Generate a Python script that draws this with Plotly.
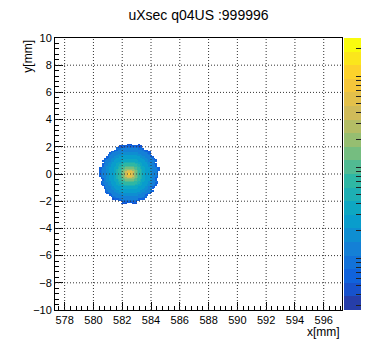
import numpy as np
import plotly.graph_objects as go

# ---------------- data ----------------
title_text = "uXsec q04US :999996"
x_title = "x[mm]"
y_title = "y[mm]"

x_range = [577.33, 597.27]
y_range = [-10, 10]
x_ticks = [578, 580, 582, 584, 586, 588, 590, 592, 594, 596]
y_ticks = [-10, -8, -6, -4, -2, 0, 2, 4, 6, 8, 10]
grid_x = [578, 580, 582, 584, 586, 588, 590, 592, 594, 596]
grid_y = [-8, -6, -4, -2, 0, 2, 4, 6, 8]

beam_center = [582.5, 0.0]
bin_width = 0.1
hist_x_lim = [580.0, 585.0]
hist_y_lim = [-2.5, 2.5]

profile_radius_mm = [0.0, 0.1, 0.2, 0.3, 0.4, 0.5, 0.6, 0.7, 0.8, 0.9, 1.0, 1.1,
                     1.2, 1.3, 1.4, 1.5, 1.6, 1.7, 1.8, 1.9, 2.0, 2.1, 2.2, 2.3]
profile_counts = [1150, 1000, 660, 380, 235, 155, 110, 84, 64, 52, 42, 36,
                  30, 26, 23, 20, 17, 15, 13, 11, 8, 6, 4, 3]

# outer (ragged) edge of the spot vs. angle, every 10 degrees
edge_angle_deg = [0, 10, 20, 30, 40, 50, 60, 70, 80, 90, 100, 110,
                  120, 130, 140, 150, 160, 170, 180, 190, 200, 210, 220, 230,
                  240, 250, 260, 270, 280, 290, 300, 310, 320, 330, 340, 350]
edge_radius_mm = [2.05, 2.12, 2.0, 2.15, 2.08, 2.2, 2.12, 2.25, 2.15, 2.22, 2.1, 2.18,
                  2.05, 2.12, 2.0, 2.1, 2.02, 2.12, 2.08, 2.0, 2.12, 2.05, 2.15, 2.08,
                  2.2, 2.1, 2.22, 2.15, 2.2, 2.08, 2.15, 2.02, 2.1, 2.0, 2.08, 1.98]

z_count_range = [2.7, 2630]
n_contours = 20

# ROOT kBird palette
bird_stops = [0.0, 0.125, 0.25, 0.375, 0.5, 0.625, 0.75, 0.875, 1.0]
bird_r = [0.2082, 0.0592, 0.0780, 0.0232, 0.1802, 0.5301, 0.8186, 0.9956, 0.9764]
bird_g = [0.1664, 0.3599, 0.5041, 0.6419, 0.7178, 0.7492, 0.7328, 0.7862, 0.9832]
bird_b = [0.5293, 0.8684, 0.8385, 0.7914, 0.6425, 0.4662, 0.3499, 0.1968, 0.0539]

# ---------------- build histogram ----------------
xc = np.arange(hist_x_lim[0] + bin_width / 2, hist_x_lim[1], bin_width)
yc = np.arange(hist_y_lim[0] + bin_width / 2, hist_y_lim[1], bin_width)
X, Y = np.meshgrid(xc, yc)
dx = X - beam_center[0]
dy = Y - beam_center[1]
R = np.sqrt(dx ** 2 + dy ** 2)
ang = (np.degrees(np.arctan2(dy, dx)) + 360) % 360
step = 360 / len(edge_angle_deg)
ai = np.round(ang / step).astype(int) % len(edge_angle_deg)
edge = np.array(edge_radius_mm)[ai]
pi = np.clip(np.round(R / bin_width).astype(int), 0, len(profile_counts) - 1)
counts = np.array(profile_counts, dtype=float)[pi]
# outermost ring of each direction is the faint halo
counts = np.where(R > edge - 0.12, np.minimum(counts, profile_counts[-3]), counts)
Z = np.where(R <= edge, np.log10(counts), np.nan)

zmin = np.log10(z_count_range[0])
zmax = np.log10(z_count_range[1])


def bird(f):
    r = np.interp(f, bird_stops, bird_r)
    g = np.interp(f, bird_stops, bird_g)
    b = np.interp(f, bird_stops, bird_b)
    return "rgb(%d,%d,%d)" % (round(r * 255), round(g * 255), round(b * 255))


colorscale = []
for i in range(n_contours):
    c = bird(min((i + 0.99) / n_contours, 1.0))
    colorscale.append([i / n_contours, c])
    colorscale.append([(i + 1) / n_contours, c])

cb_ticks = []
for dec in range(0, 5):
    for k in range(1, 10):
        v = np.log10(k * 10 ** dec)
        if zmin <= v <= zmax:
            cb_ticks.append(v)

fig = go.Figure()
fig.add_trace(go.Heatmap(
    x=xc, y=yc, z=Z, zmin=zmin, zmax=zmax, colorscale=colorscale,
    zsmooth=False, hoverongaps=False,
    colorbar=dict(
        x=1.0067, xanchor="left", y=0.5, yanchor="middle",
        len=1, lenmode="fraction", thickness=17, thicknessmode="pixels",
        xpad=0, ypad=0, outlinewidth=0,
        tickmode="array", tickvals=cb_ticks, ticks="inside", ticklen=5,
        tickcolor="#222", tickwidth=1, showticklabels=False,
    ),
))

font_family = "Liberation Sans, Arial, Helvetica, sans-serif"
axis_common = dict(
    showline=True, mirror=True, linecolor="black", linewidth=1,
    ticks="inside", ticklen=8, tickwidth=1, tickcolor="black",
    showgrid=False, zeroline=False,
    tickfont=dict(family=font_family, size=11, color="black"),
    minor=dict(dtick=0.4, tick0=0, ticks="inside", ticklen=4,
               tickcolor="black", tickwidth=1, showgrid=False),
)

fig.update_layout(
    width=378, height=340, autosize=False,
    margin=dict(l=55, r=24, t=38, b=30, pad=0),
    paper_bgcolor="white", plot_bgcolor="white",
    title=dict(text=title_text, x=0.5, xref="paper", xanchor="center",
               y=1 - 15 / 340, yref="container", yanchor="middle",
               font=dict(family=font_family, size=14, color="black")),
    xaxis=dict(range=x_range, tickmode="array", tickvals=x_ticks, **axis_common),
    yaxis=dict(range=y_range, tickmode="array", tickvals=y_ticks, **axis_common),
    showlegend=False,
)

shapes = []
for v in grid_x:
    shapes.append(dict(type="line", xref="x", yref="y domain", x0=v, x1=v, y0=0, y1=1,
                       line=dict(color="#333", width=1, dash="1px,2px"), layer="above"))
for v in grid_y:
    shapes.append(dict(type="line", xref="x domain", yref="y", x0=0, x1=1, y0=v, y1=v,
                       line=dict(color="#333", width=1, dash="1px,2px"), layer="above"))
fig.update_layout(shapes=shapes)

fig.add_annotation(text=x_title, xref="paper", yref="paper", x=1, y=-0.081,
                   xanchor="right", yanchor="middle", showarrow=False,
                   font=dict(family=font_family, size=12, color="black"))
fig.add_annotation(text=y_title, xref="paper", yref="paper", x=-0.097, y=1.0,
                   xanchor="center", yanchor="top", textangle=-90, showarrow=False,
                   font=dict(family=font_family, size=12, color="black"))

fig.write_html("out.html")
